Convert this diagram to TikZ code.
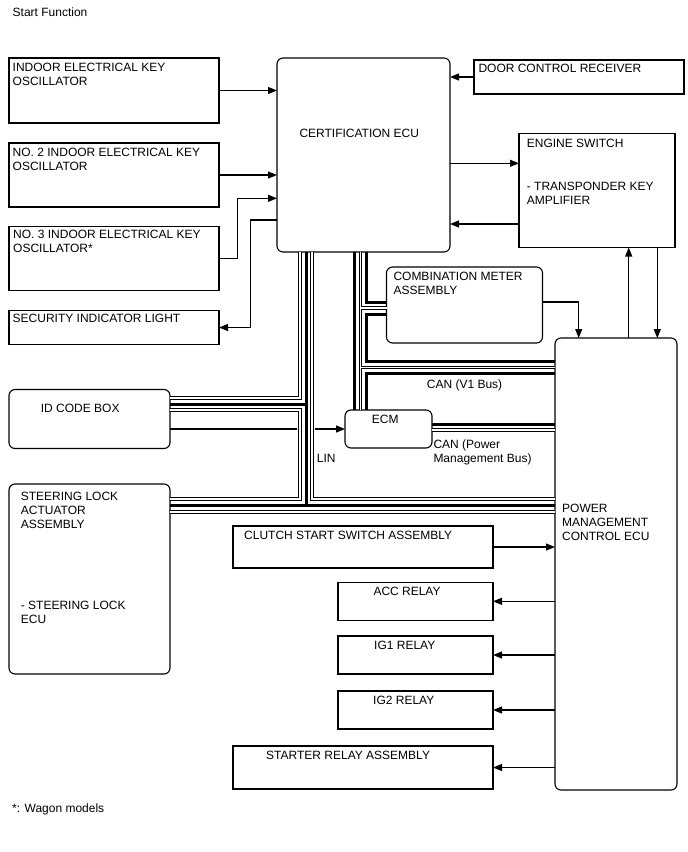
\documentclass[tikz,border=0pt]{standalone}
\usepackage{fontspec}
\setmainfont{Liberation Sans}
\usetikzlibrary{arrows.meta}

\tikzset{
  every node/.style={font=\fontsize{12}{14}\selectfont},
  blk/.style={draw, line width=1.1pt, inner sep=0pt, outer sep=0pt, anchor=north west},
  rblk/.style={blk, rounded corners=6pt},
  txt/.style={anchor=base west, inner sep=0pt, align=left},
  wire/.style={line width=1.1pt},
  arr/.style={wire, -{Triangle[length=9pt,width=7pt]}},
  tbus/.style={line width=3pt},
  hbus/.style={double, line width=0.8pt, double distance=1.6pt}
}

\begin{document}
\begin{tikzpicture}[x=1pt, y=-1pt]
  \useasboundingbox (0,0) rectangle (688,852);

  \node[blk, minimum width=210pt, minimum height=65pt] (osc1) at (9,58) {};
  \node[blk, minimum width=210pt, minimum height=64pt] (osc2) at (9,143) {};
  \node[blk, minimum width=210pt, minimum height=64pt] (osc3) at (9,226.5) {};
  \node[blk, minimum width=210pt, minimum height=34pt] (secl) at (9,310.5) {};
  \node[rblk, minimum width=173pt, minimum height=194pt] (cert) at (277,58) {};
  \node[blk, minimum width=210pt, minimum height=34pt] (door) at (474,60) {};
  \node[blk, minimum width=156pt, minimum height=114pt] (eng) at (519,133.5) {};
  \node[rblk, minimum width=156pt, minimum height=76pt] (meter) at (386.5,267) {};
  \node[rblk, minimum width=161pt, minimum height=59pt] (idbox) at (9,389.5) {};
  \node[rblk, minimum width=161pt, minimum height=190pt] (steer) at (9,484) {};
  \node[rblk, minimum width=87pt, minimum height=38pt] (ecm) at (345,410) {};
  \node[rblk, minimum width=122pt, minimum height=452pt] (pm) at (555,338) {};
  \node[blk, minimum width=260pt, minimum height=42pt] (clutch) at (233,526) {};
  \node[blk, minimum width=260pt, minimum height=43pt] (starter) at (233,746) {};

  \node[txt] (title) at (12.5,16) {Start Function};
  \node[txt] (osc1-t) at (12.5,85) {INDOOR ELECTRICAL KEY\\OSCILLATOR};
  \node[txt] (osc2-t) at (12.5,170) {NO. 2 INDOOR ELECTRICAL KEY\\OSCILLATOR};
  \node[txt] (osc3-t) at (13,252.7) {NO. 3 INDOOR ELECTRICAL KEY\\OSCILLATOR*};
  \node[txt] (secl-t) at (12.5,322.7) {SECURITY INDICATOR LIGHT};
  \node[txt] (cert-t) at (299.3,137.7) {CERTIFICATION ECU};
  \node[txt] (door-t) at (478.3,72) {DOOR CONTROL RECEIVER};
  \node[txt] (eng-t) at (526.7,147) {ENGINE SWITCH};
  \node[txt] (eng-s) at (526.7,204.7) {- TRANSPONDER KEY\\AMPLIFIER};
  \node[txt] (meter-t) at (393.3,294.3) {COMBINATION METER\\ASSEMBLY};
  \node[txt] (idbox-t) at (40.7,412) {ID CODE BOX};
  \node[txt] (steer-t) at (20.7,528.3) {STEERING LOCK\\ACTUATOR\\ASSEMBLY};
  \node[txt] (steer-s) at (20.7,623.7) {- STEERING LOCK\\ECU};
  \node[txt] (ecm-t) at (371.7,423.7) {ECM};
  \node[txt] (pm-t) at (562,540.7) {POWER\\MANAGEMENT\\CONTROL ECU};
  \node[txt] (clutch-t) at (244,539.7) {CLUTCH START SWITCH ASSEMBLY};
  \node[txt] (starter-t) at (266,759.7) {STARTER RELAY ASSEMBLY};
  \node[txt] (lin-t) at (316.7,462) {LIN};
  \node[txt] (canv-t) at (426.7,388.7) {CAN (V1 Bus)};
  \node[txt] (canp-t) at (433.3,462) {CAN (Power\\Management Bus)};
  \node[txt] (note) at (12,812.5) {*: Wagon models};

  \foreach \n/\y/\tx/\t in {acc/582.3/373.3/ACC RELAY, ig1/636/374/IG1 RELAY, ig2/691/373/IG2 RELAY} {
    \node[blk, minimum width=155pt, minimum height=38pt] (\n) at (338,\y) {};
    \node[txt] (\n-t) at (\tx,\y+13.3) {\t};
    \draw[arr] (pm.west |- \n.east) -- (\n.east);
  }

  \coordinate (n3) at (237.3,198.3);
  \coordinate (s1) at (250.7,220);
  \coordinate (e1) at (500,163.3);
  \coordinate (e2) at (500,224);
  \coordinate (ek1) at (628.7,300);
  \coordinate (ek2) at (657.3,300);
  \coordinate (mk) at (578.7,302);
  \coordinate (l1) at (297,429);
  \coordinate (l2) at (315,429);

  \draw[arr] (osc1.east) -- (osc1.east -| cert.west);
  \draw[arr] (osc2.east) -- (osc2.east -| cert.west);
  \draw[arr] (osc3.east) -| (n3) -- (n3 -| cert.west);
  \draw[arr] (cert.west |- s1) -- (s1) |- (secl.east);
  \draw[arr] (door.west) -- (door.west -| cert.east);
  \draw[arr] (cert.east |- e1) -- (eng.west |- e1);
  \draw[arr] (eng.west |- e2) -- (cert.east |- e2);
  \draw[arr] (pm.north -| ek1) -- (eng.south -| ek1);
  \draw[arr] (eng.south -| ek2) -- (pm.north -| ek2);
  \draw[arr] (meter.east |- mk) -- (mk) -- (mk |- pm.north);
  \draw[arr] (clutch.east) -- (clutch.east -| pm.west);
  \draw[arr] (pm.west |- starter.east) -- (starter.east);
  \draw[wire] (idbox.east |- l1) -- (l1);
  \draw[arr] (l2) -- (l2 -| ecm.west);

  \coordinate (la1) at (300,398);
  \coordinate (la2) at (300,410);
  \coordinate (la3) at (300,499);
  \coordinate (lb1) at (306,404);
  \coordinate (lb2) at (306,505.5);
  \coordinate (lc1) at (312,499);
  \coordinate (lc2) at (312,512);
  \coordinate (ra) at (354.5,410);
  \coordinate (rb) at (360.5,410);
  \coordinate (rb1) at (360.5,308);
  \coordinate (rb2) at (360.5,367.5);
  \coordinate (rc1) at (366.5,302);
  \coordinate (rc2) at (366.5,314);
  \coordinate (rc3) at (366.5,361.5);
  \coordinate (rc4) at (366.5,373.5);
  \coordinate (pa) at (480,424);
  \coordinate (pb) at (480,430);

  \draw[tbus] (cert.south -| lb2) -- (lb2) (idbox.east |- lb1) -- (lb1)
    (steer.east |- lb2) -- (lb2 -| pm.west)
    (cert.south -| ra) -- (ra)
    (cert.south -| rc1) -- (rc1) -- (rc1 -| meter.west)
    (meter.west |- rc2) -- (rc2) -- (rc3) -- (rc3 -| pm.west)
    (pm.west |- rc4) -- (rc4) -- (ecm.north -| rc4)
    (ecm.east |- pa) -- (pa -| pm.west);
  \draw[hbus] (cert.south -| la1) -- (la1) -- (la1 -| idbox.east)
    (idbox.east |- la2) -- (la2) -- (la3) -- (la3 -| steer.east)
    (cert.south -| lc1) -- (lc1) -- (lc1 -| pm.west)
    (steer.east |- lc2) -- (lc2 -| pm.west)
    (cert.south -| rb) -- (rb)
    (rb1) -- (rb1 -| meter.west)
    (rb2) -- (rb2 -| pm.west)
    (ecm.east |- pb) -- (pb -| pm.west);
\end{tikzpicture}
\end{document}
